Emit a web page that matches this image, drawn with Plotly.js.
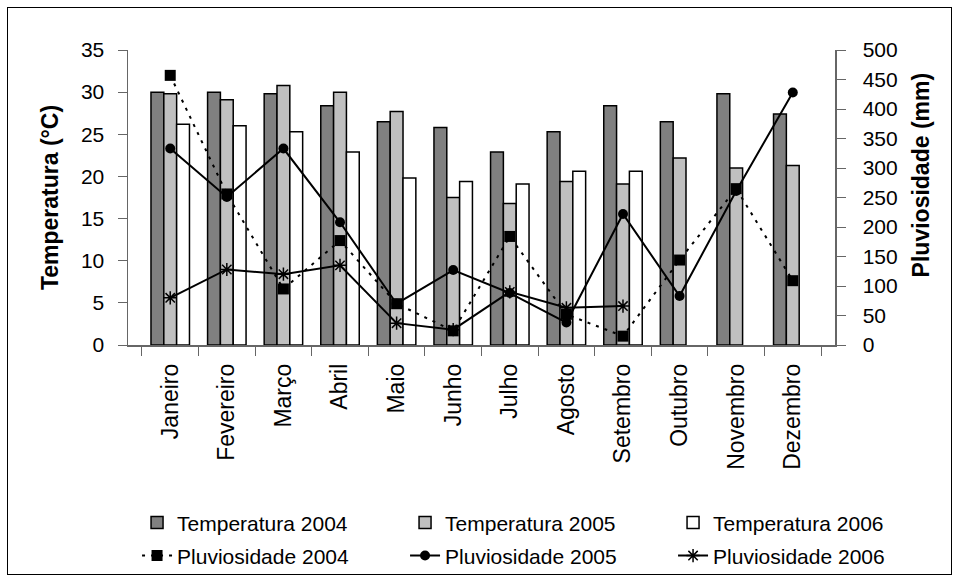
<!DOCTYPE html>
<html>
<head>
<meta charset="utf-8">
<script src="https://cdn.plot.ly/plotly-3.0.1.min.js"></script>
<style>
html,body{margin:0;padding:0;background:#fff;}
#wrap{position:relative;width:960px;height:583px;}
#chart{position:absolute;left:0;top:0;width:960px;height:583px;}
#frame{position:absolute;left:7px;top:7px;width:943px;height:566px;border:1px solid #000;pointer-events:none;}
</style>
</head>
<body>
<div id="wrap"><div id="chart"></div><div id="frame"></div></div>
<script>
const months = ["Janeiro","Fevereiro","Março","Abril","Maio","Junho","Julho","Agosto","Setembro","Outubro","Novembro","Dezembro"];
const temp2004 = [30.0, 30.0, 29.8, 28.4, 26.5, 25.8, 22.9, 25.3, 28.4, 26.5, 29.8, 27.4];
const temp2005 = [29.8, 29.1, 30.8, 30.0, 27.7, 17.5, 16.8, 19.4, 19.1, 22.2, 21.0, 21.3];
const temp2006 = [26.2, 26.0, 25.3, 22.9, 19.8, 19.4, 19.1, 20.6, 20.6, null, null, null];
const pluv2004 = [457, 256, 95, 177, 70, 24, 184, 52, 15, 144, 265, 109];
const pluv2005 = [333, 251, 333, 208, 70, 127, 88, 38, 222, 83, 261, 428];
const pluv2006 = [80, 128, 120, 135, 37, 26, 90, 63, 66, null, null, null];

const FONT = "Liberation Sans, Arial, sans-serif";
const barLine = {color:"#000", width:1.5};
const traces = [
  {type:"bar", name:"Temperatura 2004", x:months, y:temp2004, marker:{color:"#808080", line:barLine}, legend:"legend", legendrank:1},
  {type:"bar", name:"Temperatura 2005", x:months, y:temp2005, marker:{color:"#c0c0c0", line:barLine}, legend:"legend", legendrank:2},
  {type:"bar", name:"Temperatura 2006", x:months, y:temp2006, marker:{color:"#ffffff", line:barLine}, legend:"legend", legendrank:3},
  {type:"scatter", mode:"lines+markers", name:"Pluviosidade 2006", x:months, y:pluv2006, yaxis:"y2", legend:"legend2",
   line:{color:"#000", width:2}, marker:{symbol:"asterisk-open", size:11, color:"#000", line:{color:"#000", width:1.5}}, legendrank:6},
  {type:"scatter", mode:"lines+markers", name:"Pluviosidade 2005", x:months, y:pluv2005, yaxis:"y2", legend:"legend2",
   line:{color:"#000", width:2}, marker:{symbol:"circle", size:10, color:"#000"}, legendrank:5},
  {type:"scatter", mode:"lines+markers", name:"Pluviosidade 2004", x:months, y:pluv2004, yaxis:"y2", legend:"legend2",
   line:{color:"#000", width:2, dash:"3px,6px"}, marker:{symbol:"square", size:11, color:"#000"}, legendrank:4}
];

const legendFont = {family:FONT, size:21, color:"#000"};
const NB = "\u00a0";
const layout = {
  width:960, height:583,
  margin:{l:128, r:125, t:50, b:238, autoexpand:false},
  paper_bgcolor:"#fff", plot_bgcolor:"#fff",
  font:{family:FONT, color:"#000", size:20},
  barmode:"group", bargap:0.32, bargroupgap:0,
  showlegend:true,
  legend:{orientation:"h", x:1.15, xanchor:"right", y:-0.603, yanchor:"middle",
          entrywidth:223, traceorder:"normal", font:legendFont},
  legend2:{orientation:"h", x:1.15, xanchor:"right", y:-0.715, yanchor:"middle",
          entrywidth:223, traceorder:"normal", font:legendFont},
  xaxis:{type:"category", automargin:false, showline:true, linecolor:"#666", linewidth:1.5, ticks:"outside", ticklen:9, tickcolor:"#666",
         tickson:"boundaries", tickangle:-90, ticklabelstandoff:8, tickfont:{family:FONT, size:23}, showgrid:false, zeroline:false},
  yaxis:{range:[0,35], dtick:5, automargin:false, showline:true, linecolor:"#666", linewidth:1.5, ticks:"outside", ticklen:9, tickcolor:"#666",
         ticklabelstandoff:9, showgrid:false, zeroline:false, tickfont:{family:FONT, size:21},
         title:{text:"<b>Temperatura (°C)</b>", font:{family:FONT, size:23}, standoff:16}},
  yaxis2:{range:[0,500], dtick:50, automargin:false, overlaying:"y", side:"right", showline:true, linecolor:"#666", linewidth:1.5,
          ticks:"outside", ticklen:9, tickcolor:"#666", ticklabelstandoff:13, showgrid:false, zeroline:false, tickfont:{family:FONT, size:21},
          title:{text:"<b>" + NB.repeat(7) + "Pluviosidade (mm)</b>", font:{family:FONT, size:23}, standoff:16}}
};

Plotly.newPlot("chart", traces, layout, {displayModeBar:false, staticPlot:true});
</script>
</body>
</html>
